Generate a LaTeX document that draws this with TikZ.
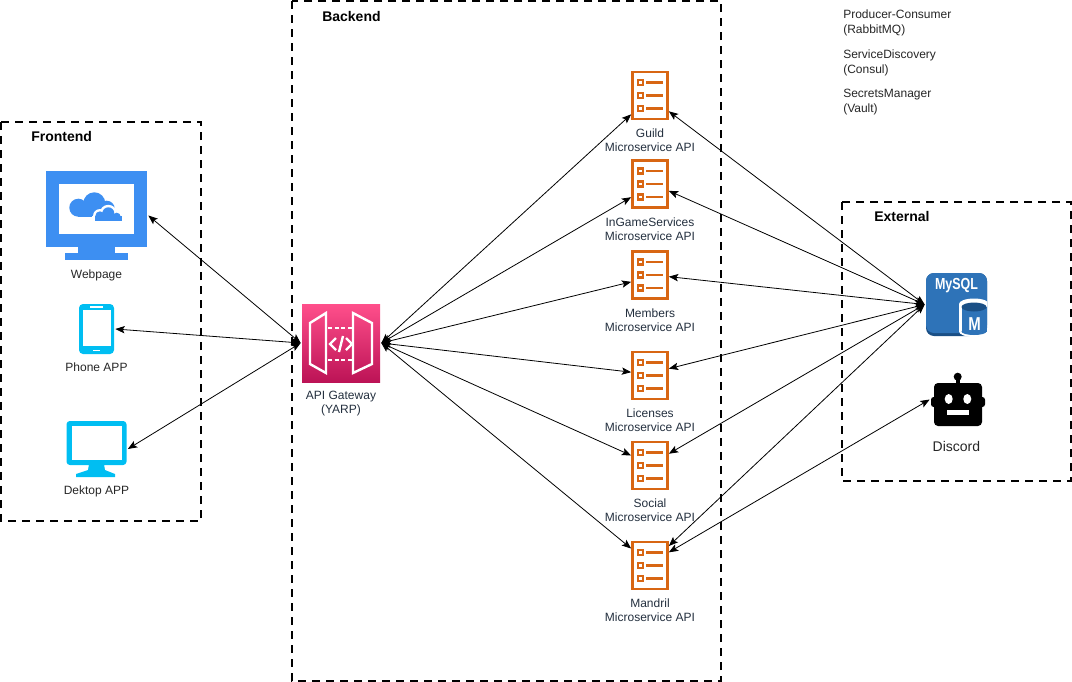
\documentclass[tikz,border=0pt]{standalone}
\usepackage{fontspec}
\setmainfont{Liberation Sans}
\usetikzlibrary{arrows.meta,positioning,calc}
\definecolor{awsorange}{HTML}{D86613}
\definecolor{awstext}{HTML}{232F3E}
\definecolor{webblue}{HTML}{3D8FF2}
\definecolor{appblue}{HTML}{00BEF2}
\definecolor{gwtop}{HTML}{FF4F8B}
\definecolor{gwbottom}{HTML}{BC1356}
\definecolor{sqlblue}{HTML}{2E73B8}
\definecolor{sqldark}{HTML}{1A4F85}
\def\px{0.75pt}
\tikzset{x=0.75pt, y=-0.75pt,
    zone/.style={draw=black, dashed, line width=1.5pt, dash pattern=on 6pt off 4.5pt},
    title/.style={font=\fontsize{10.5pt}{12pt}\selectfont\bfseries, text=black, inner sep=0pt},
    lbl/.style={font=\fontsize{9pt}{10.5pt}\selectfont, text=black!85, align=center, inner sep=0pt},
    awslbl/.style={lbl, text=awstext},
    note/.style={lbl, font=\fontsize{9pt}{11.25pt}\selectfont, align=left, anchor=north west},
    icon/.style={inner sep=0pt, outer sep=1pt},
    both/.style={{Stealth[length=7pt,width=5.5pt,inset=1.5pt]}-{Stealth[length=7pt,width=5.5pt,inset=1.5pt]}, line width=0.6pt, black},
    servicebox/.style={icon, draw=awsorange, line width=1.8pt, fill=white, minimum width=35*\px, minimum height=47*\px,
        path picture={
            \begin{scope}[shift={(path picture bounding box.center)}, draw=awsorange, line width=1.8pt]
                \draw (-12,-15.5) rectangle (-7,-10.5);
                \draw (-12,-2.5) rectangle (-7,2.5);
                \draw (-12,10.5) rectangle (-7,15.5);
                \draw (-4,-13) -- (13,-13);
                \draw (-4,0) -- (13,0);
                \draw (-4,13) -- (13,13);
            \end{scope}
        }},
    gatewaybox/.style={icon, top color=gwtop, bottom color=gwbottom, minimum width=78*\px, minimum height=78*\px,
        path picture={
            \begin{scope}[shift={(path picture bounding box.center)}, draw=white, line width=1.8pt]
                \draw (-31,-20) -- (-15,-30) -- (-15,30) -- (-31,21) -- cycle;
                \draw (31,-20) -- (12,-30) -- (12,30) -- (31,21) -- cycle;
                \draw[dash pattern=on 3pt off 2pt] (-13,-15) -- (12,-15);
                \draw[dash pattern=on 3pt off 2pt] (-13,17) -- (12,17);
                \draw (-5,-5) -- (-11,1) -- (-5,7);
                \draw (5,-5) -- (11,1) -- (5,7);
                \draw (2,-7) -- (-2,9);
            \end{scope}
        }}
}
\begin{document}
\begin{tikzpicture}
    \useasboundingbox (0,0) rectangle (1072,682);

    \draw[zone] (1,122) rectangle (201,521);
    \draw[zone] (292,1) rectangle (721,681);
    \draw[zone] (842,202) rectangle (1071,481);
    \node[title, anchor=west] (frontend) at (31,136) {Frontend};
    \node[title, anchor=west] (backend) at (322,16) {Backend};
    \node[title, anchor=west] (external) at (874,216) {External};

    \node[note] (rabbit) at (843,9.5) {Producer-Consumer\\(RabbitMQ)};
    \node[note] (consul) at (843,49.5) {ServiceDiscovery\\(Consul)};
    \node[note] (vault) at (843,89) {SecretsManager\\(Vault)};

    \node[icon, minimum width=101*\px, minimum height=89*\px] (webpage) at (96.5,215.5) {};
    \fill[webblue] (46,171) rectangle (147,247);
    \fill[webblue] (78,247) rectangle (115,253);
    \fill[webblue] (65,253) rectangle (128,260);
    \fill[white] (58.7,184) rectangle (134,234);
    \fill[webblue] (78.3,207.7) circle[radius=9];
    \fill[webblue] (94.3,203.3) circle[radius=11];
    \fill[webblue] (106.7,208.7) circle[radius=8];
    \fill[webblue] (78,210) rectangle (110,216.7);
    \fill[white] (100,216) circle[radius=7];
    \fill[white] (108.3,213.3) circle[radius=8.5];
    \fill[white] (116.7,216.7) circle[radius=6.5];
    \fill[white] (92,216) rectangle (125,221);
    \fill[webblue] (100,216) circle[radius=4.7];
    \fill[webblue] (108.3,213.3) circle[radius=6];
    \fill[webblue] (116.7,216.7) circle[radius=4];
    \fill[webblue] (95.3,216) rectangle (122,220.7);
    \node[lbl, below=6pt of webpage] (webpagelabel) {Webpage};

    \node[icon, fill=appblue, rounded corners=3pt, minimum width=35*\px, minimum height=50*\px] (phone) at (96.5,329) {};
    \fill[white] (82.7,309.5) rectangle (110.7,346);
    \fill[white] (90,306) rectangle (103,307.5);
    \fill[white] (93,349.5) rectangle (100,351);
    \node[lbl, below=5.5pt of phone] (phonelabel) {Phone APP};

    \node[icon, minimum width=60*\px, minimum height=56*\px] (desktop) at (96.5,449) {};
    \fill[appblue, rounded corners=2.5pt] (66.5,421) rectangle (126.5,465);
    \fill[white] (71.7,426) rectangle (121.7,460);
    \fill[appblue] (89,464) -- (104,464) -- (105,470) -- (115,474) -- (115,477) -- (76,477) -- (76,474) -- (88,470) -- cycle;
    \node[lbl, below=5.5pt of desktop] (desktoplabel) {Dektop APP};

    \node[gatewaybox] (gateway) at (341,343) {};
    \node[awslbl, below=5.5pt of gateway] (gatewaylabel) {API Gateway\\(YARP)};

    \node[servicebox] (guild) at (650,95.5) {};
    \node[servicebox] (ingame) at (650,184) {};
    \node[servicebox] (members) at (650,275) {};
    \node[servicebox] (licenses) at (650,375.5) {};
    \node[servicebox] (social) at (650,465.5) {};
    \node[servicebox] (mandril) at (650,565.5) {};
    \node[awslbl, below=6.5pt of guild] (guildlabel) {Guild\\Microservice API};
    \node[awslbl, below=6.5pt of ingame] (ingamelabel) {InGameServices\\Microservice API};
    \node[awslbl, below=6.5pt of members] (memberslabel) {Members\\Microservice API};
    \node[awslbl, below=6.5pt of licenses] (licenseslabel) {Licenses\\Microservice API};
    \node[awslbl, below=6.5pt of social] (sociallabel) {Social\\Microservice API};
    \node[awslbl, below=6.5pt of mandril] (mandrillabel) {Mandril\\Microservice API};

    \node[icon, fill=sqldark, rounded corners=6pt, minimum width=61*\px, minimum height=63*\px] (mysql) at (956.5,304.5) {};
    \fill[sqlblue, rounded corners=6pt] (926,273) rectangle (987,333);
    \begin{scope}
        \clip (926,273) rectangle (987,338);
        \fill[white] (974,304) circle[x radius=15, y radius=5.5];
        \fill[white] (959,304) rectangle (989,331.5);
        \fill[white] (974,331.5) circle[x radius=15, y radius=5.5];
        \fill[sqlblue] (974,331.5) circle[x radius=12.5, y radius=3.5];
        \fill[sqlblue] (961.5,307) rectangle (986.5,331.5);
        \fill[sqldark] (974,307) circle[x radius=12.5, y radius=4.5];
    \end{scope}
    \node[inner sep=0pt, text=white, font=\fontsize{12pt}{12pt}\selectfont\bfseries, xscale=0.78] (mysqltext) at (956.5,286) {MySQL};
    \node[inner sep=0pt, text=white, font=\fontsize{14pt}{14pt}\selectfont\bfseries, xscale=0.8] (mysqlm) at (974.5,324) {M};

    \node[icon, minimum width=54*\px, minimum height=53*\px] (discord) at (958,399.5) {};
    \fill[black, rounded corners=3pt] (934,383) rectangle (982,426);
    \fill[black, rounded corners=2pt] (931,397) rectangle (936,407);
    \fill[black, rounded corners=2pt] (980,397) rectangle (985,407);
    \fill[black] (956,378) rectangle (959.5,384);
    \fill[black] (957.7,376.7) circle[radius=4];
    \fill[white] (948.7,399) circle[x radius=4, y radius=5];
    \fill[white] (967.3,399) circle[x radius=4, y radius=5];
    \fill[white] (947,410) rectangle (969,415);
    \node[lbl, font=\fontsize{10.5pt}{12pt}\selectfont, below=10pt of discord, xshift=-1.2pt] (discordlabel) {Discord};

    \path[both] (gateway.west) edge (webpage.east);
    \path[both] (gateway.west) edge (phone.east);
    \path[both] (gateway.west) edge (desktop.east);

    \path[both] (gateway.east) edge (guild.225);
    \path[both] (gateway.east) edge (ingame.215);
    \path[both] (gateway.east) edge (members.200);
    \path[both] (gateway.east) edge (licenses.170);
    \path[both] (gateway.east) edge (social.152);
    \path[both] (gateway.east) edge (mandril.138);

    \path[both] (mysql.west) edge (guild.-40);
    \path[both] (mysql.west) edge (ingame.-20);
    \path[both] (mysql.west) edge (members.-5);
    \path[both] (mysql.west) edge (licenses.20);
    \path[both] (mysql.west) edge (social.32);
    \path[both] (mysql.west) edge (mandril.46);
    \path[both] (discord.west) edge (mandril.35);
\end{tikzpicture}
\end{document}
